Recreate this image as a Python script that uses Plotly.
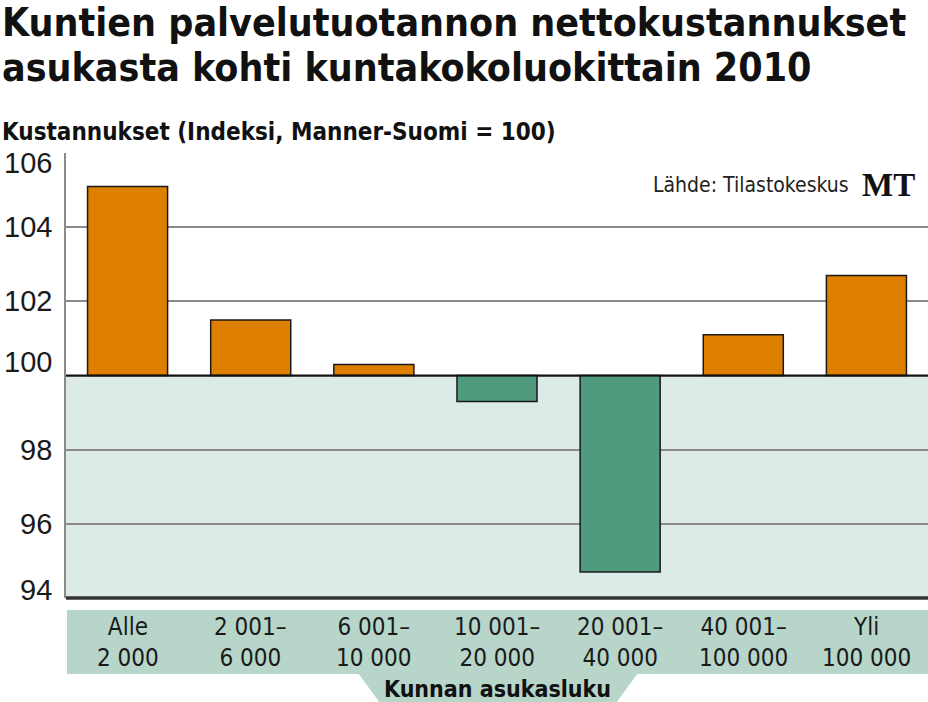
import plotly.graph_objects as go

categories = ["Alle<br>2 000", "2 001–<br>6 000", "6 001–<br>10 000", "10 001–<br>20 000",
              "20 001–<br>40 000", "40 001–<br>100 000", "Yli<br>100 000"]
index_values = [105.1, 101.5, 100.3, 99.3, 94.7, 101.1, 102.7]
y_ticks = [94, 96, 98, 100, 102, 104, 106]
BASE = 100

ORANGE = "#de7f00"
GREEN = "#509b7d"
BG_LOW = "#dcebe8"
LABEL_BG = "#b7d5c9"
NARROW = "Liberation Sans Narrow, DejaVu Sans Condensed, Arial Narrow, sans-serif"
COND = "DejaVu Sans Condensed, Liberation Sans Narrow, sans-serif"

# plot area in pixels: x 66..928, y 153..598
L, R, T, B = 66, 928, 153, 598
def px(x):
    return (x - L) / (R - L)
def py(y):
    return (B - y) / (B - T)

colors = [ORANGE if v >= BASE else GREEN for v in index_values]

fig = go.Figure()
fig.add_trace(go.Bar(
    x=categories, y=[v - BASE for v in index_values], base=BASE,
    marker=dict(color=colors, line=dict(color="#1a1a1a", width=1.5)),
    hovertemplate="%{x}: %{customdata}<extra></extra>",
    customdata=index_values,
))

# light teal background below 100
fig.add_shape(type="rect", xref="paper", yref="y", x0=0, x1=1, y0=94, y1=BASE,
              fillcolor=BG_LOW, line_width=0, layer="below")
# 100 baseline
fig.add_shape(type="line", xref="paper", yref="y", x0=0, x1=1, y0=BASE, y1=BASE,
              line=dict(color="#111", width=2))
# thick bottom axis
fig.add_shape(type="line", xref="paper", yref="paper", x0=0, x1=1, y0=0, y1=0,
              line=dict(color="#333", width=3.5))
# category label strip
fig.add_shape(type="rect", xref="paper", yref="paper", x0=px(67), x1=1, y0=py(674), y1=py(610),
              fillcolor=LABEL_BG, line_width=0)
# trapezoid under the strip
fig.add_shape(type="path", xref="paper", yref="paper",
              path=f"M {px(358)},{py(673)} L {px(638)},{py(673)} L {px(616)},{py(703)} L {px(380)},{py(703)} Z",
              fillcolor=LABEL_BG, line_width=0)

for c in categories:
    fig.add_annotation(x=c, y=py(642), xref="x", yref="paper", text=c, showarrow=False,
                       yanchor="middle", font=dict(family=NARROW, size=24, color="#1a1a1a"))

# y tick labels, nudged off the edge lines like in the original
nudge = {106: -10, 100: 14, 94: 8}
for t in y_ticks:
    fig.add_annotation(x=px(54), y=t, xref="paper", yref="y", text=str(t), showarrow=False,
                       xanchor="right", yanchor="middle", yshift=nudge.get(t, 0),
                       font=dict(family="Liberation Sans, Arial, sans-serif", size=29, color="#1a1a1a"))

fig.add_annotation(x=px(497), y=py(689), xref="paper", yref="paper", text="<b>Kunnan asukasluku</b>",
                   showarrow=False, yanchor="middle",
                   font=dict(family=NARROW, size=23, color="#111"))

fig.add_annotation(x=px(851), y=py(185), xref="paper", yref="paper", text="Lähde: Tilastokeskus",
                   showarrow=False, xanchor="right", yanchor="middle",
                   font=dict(family=NARROW, size=21, color="#222"))
fig.add_annotation(x=px(917), y=py(185), xref="paper", yref="paper",
                   text="<b>MT</b>", showarrow=False, xanchor="right", yanchor="middle",
                   font=dict(family="Liberation Serif, DejaVu Serif, serif", size=33, color="#111"))

fig.add_annotation(x=px(0), y=py(22), xref="paper", yref="paper",
                   text="<b>Kuntien palvelutuotannon nettokustannukset</b>",
                   showarrow=False, xanchor="left", yanchor="middle",
                   font=dict(family=COND, size=39, color="#111"))
fig.add_annotation(x=px(0), y=py(67), xref="paper", yref="paper",
                   text="<b>asukasta kohti kuntakokoluokittain 2010</b>",
                   showarrow=False, xanchor="left", yanchor="middle",
                   font=dict(family=COND, size=39, color="#111"))
fig.add_annotation(x=px(0), y=py(132), xref="paper", yref="paper",
                   text="<b>Kustannukset (Indeksi, Manner-Suomi = 100)</b>",
                   showarrow=False, xanchor="left", yanchor="middle",
                   font=dict(family=NARROW, size=24, color="#111"))

fig.update_layout(
    width=928, height=702,
    margin=dict(l=L, r=928 - R, t=T, b=702 - B),
    paper_bgcolor="white", plot_bgcolor="white",
    showlegend=False,
    bargap=0.35,
    xaxis=dict(showticklabels=False, showgrid=False, zeroline=False, fixedrange=True),
    yaxis=dict(range=[94, 106], tickvals=y_ticks, showgrid=True, gridcolor="#8a8a8a",
               gridwidth=1.5, zeroline=False, showline=True, linecolor="#8a8a8a", linewidth=1.5,
               ticks="", showticklabels=False),
)

fig.write_html("out.html", config={"displayModeBar": False},
               post_script="document.body.style.margin='0';")
